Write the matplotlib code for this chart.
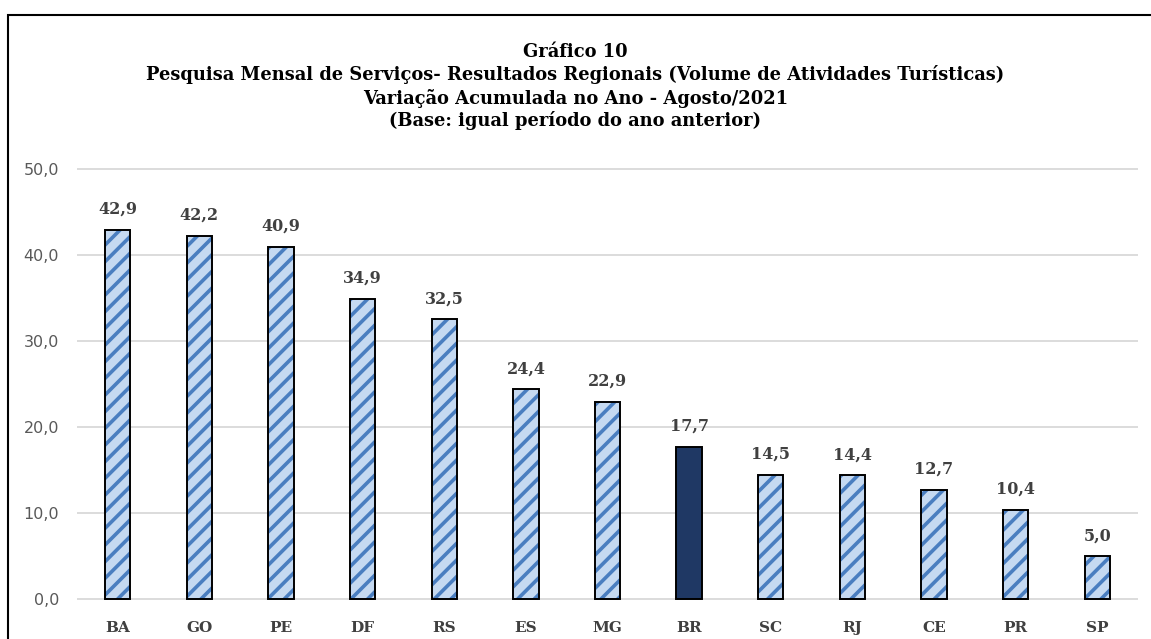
import matplotlib
matplotlib.use("Agg")
import matplotlib.pyplot as plt
from matplotlib.patches import Rectangle

categories = ["BA", "GO", "PE", "DF", "RS", "ES", "MG", "BR", "SC", "RJ", "CE", "PR", "SP"]
values = [42.9, 42.2, 40.9, 34.9, 32.5, 24.4, 22.9, 17.7, 14.5, 14.4, 12.7, 10.4, 5.0]
highlight = "BR"
yticks = [0, 10, 20, 30, 40, 50]
title_lines = [
    "Gráfico 10",
    "Pesquisa Mensal de Serviços- Resultados Regionais (Volume de Atividades Turísticas)",
    "Variação Acumulada no Ano - Agosto/2021",
    "(Base: igual período do ano anterior)",
]

plt.rcParams["hatch.linewidth"] = 2.6
serif = ["DejaVu Serif"]
fig = plt.figure(figsize=(11.51, 6.39), dpi=100)
ax = fig.add_axes([77/1151, 1-600/639, (1138-77)/1151, (600-168)/639])

x = list(range(len(categories)))
w = 0.31
for xi, c, v in zip(x, categories, values):
    if c == highlight:
        ax.bar(xi, v, width=w, color="#1F3864", edgecolor="black", linewidth=1.4, zorder=3)
    else:
        ax.bar(xi, v, width=w, color="#C5D9F1", edgecolor="#4A7EC0", hatch="//", linewidth=0, zorder=3)
        ax.bar(xi, v, width=w, fill=False, edgecolor="black", linewidth=1.4, zorder=4)
    ax.text(xi, v + 1.4, f"{v:.1f}".replace(".", ","), ha="center", va="bottom",
            fontsize=11.5, fontweight="bold", family=serif, color="#404040")

ax.set_xlim(-0.5, len(categories) - 0.5)
ax.set_ylim(-0.06, 50.06)
ax.set_yticks(yticks)
ax.set_yticklabels([f"{t:.1f}".replace(".", ",") for t in yticks], fontsize=11.5, color="#595959")
ax.set_xticks(x)
ax.set_xticklabels(categories, fontsize=11, fontweight="bold", family=serif, color="#404040")
ax.tick_params(axis="both", length=0)
ax.tick_params(axis="y", pad=13)
ax.tick_params(axis="x", pad=15)
for s in ax.spines.values():
    s.set_visible(False)
ax.grid(axis="y", color="#D9D9D9", linewidth=1.3, zorder=0)
ax.set_axisbelow(True)

ys = [52, 75, 98, 121]
for t, y in zip(title_lines, ys):
    fig.text(0.5, 1 - y/639, t, ha="center", va="center", fontsize=12.9,
             fontweight="bold", family=serif, color="black")

fig.patches.append(Rectangle((8/1151, -0.1), 1.2, 1 - 15/639 + 0.1, transform=fig.transFigure,
                             fill=False, edgecolor="black", linewidth=1.5))
fig.savefig("out.png", dpi=100)
